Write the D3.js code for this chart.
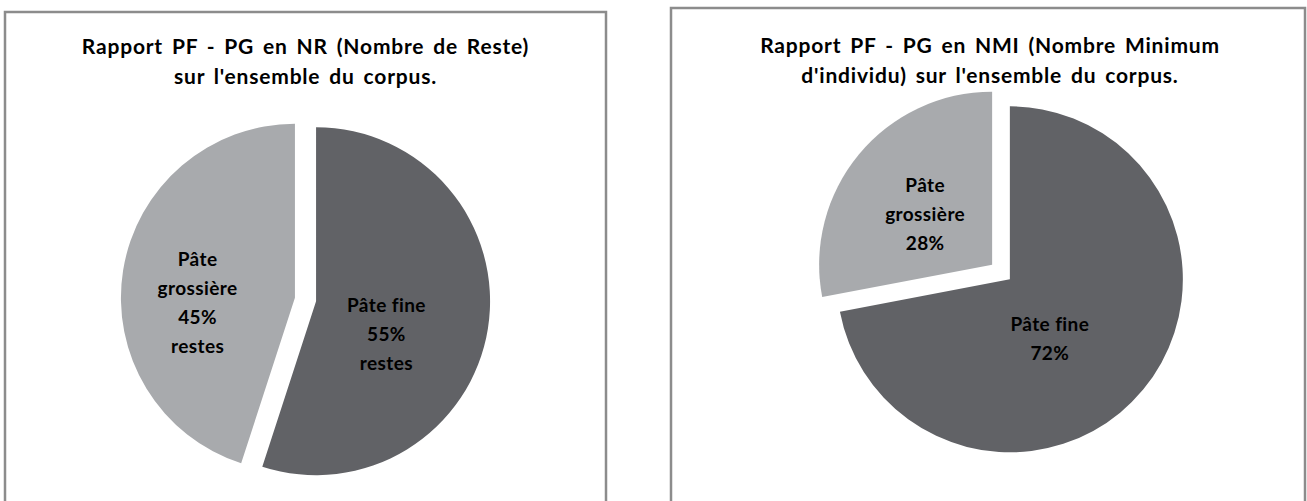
<!DOCTYPE html>
<html>
<head>
<meta charset="utf-8">
<script src="https://cdnjs.cloudflare.com/ajax/libs/d3/7.8.5/d3.min.js"></script>
<style>
    body { margin: 0; background: #fff; }
    svg { display: block; }
    text { font-family: Lato, "Open Sans", sans-serif; font-weight: bold; fill: #000; }
</style>
</head>
<body>
<svg id="chart" width="1307" height="501"></svg>
<script>

// data
var categories = ["Pâte fine", "Pâte grossière"];
var nrValues = [55, 45];
var nmiValues = [72, 28];

var nrTitle = ["Rapport PF - PG en NR (Nombre de Reste)", "sur l'ensemble du corpus."];
var nmiTitle = ["Rapport PF - PG en NMI (Nombre Minimum", "d'individu) sur l'ensemble du corpus."];

var nrLabels = [["Pâte fine", "55%", "restes"], ["Pâte", "grossière", "45%", "restes"]];
var nmiLabels = [["Pâte fine", "72%"], ["Pâte", "grossière", "28%"]];

var colours = ["#616266", "#a8aaad"];

var svg = d3.select("#chart");

function drawPanel(opts) {
    var g = svg.append("g");

    // frame (bottom runs off the page like in the original)
    g.append("rect")
        .attr("x", opts.box[0])
        .attr("y", opts.box[1])
        .attr("width", opts.box[2])
        .attr("height", opts.box[3])
        .attr("fill", "none")
        .attr("stroke", "#8c8c8c")
        .attr("stroke-width", 2.5);

    g.selectAll(".title")
        .data(opts.title)
        .enter().append("text")
        .attr("class", "title")
        .attr("x", opts.titleX)
        .attr("y", function(d, i) { return opts.titleY + i * 30; })
        .attr("text-anchor", "middle")
        .attr("dominant-baseline", "central")
        .attr("font-size", "21px")
        .style("letter-spacing", "0.8px")
        .style("word-spacing", "3px")
        .text(function(d) { return d; });

    var pie = d3.pie().sort(null).value(function(d) { return d; });
    var arcs = pie(opts.values);

    var arc = d3.arc().innerRadius(0).outerRadius(opts.r);
    var labelArc = d3.arc().innerRadius(opts.r * opts.labelPos).outerRadius(opts.r * opts.labelPos);

    var slices = g.selectAll(".slice")
        .data(arcs)
        .enter().append("g")
        .attr("class", "slice")
        .attr("transform", function(d) {
            var mid = (d.startAngle + d.endAngle) / 2;
            var dx = opts.cx + Math.sin(mid) * opts.explode;
            var dy = opts.cy - Math.cos(mid) * opts.explode;
            return "translate(" + dx + "," + dy + ")";
        });

    slices.append("path")
        .attr("d", arc)
        .attr("fill", function(d, i) { return colours[i]; });

    slices.each(function(d, i) {
        var c = labelArc.centroid(d);
        var lines = opts.labels[i];
        var lh = 29;
        var sh = opts.shift[i];
        var top = c[1] - (lines.length - 1) * lh / 2 + sh[1];
        d3.select(this).selectAll("text")
            .data(lines)
            .enter().append("text")
            .attr("x", c[0] + sh[0])
            .attr("y", function(t, j) { return top + j * lh; })
            .attr("text-anchor", "middle")
            .attr("dominant-baseline", "central")
            .attr("font-size", "19px")
            .style("letter-spacing", "0.4px")
            .text(function(t) { return t; });
    });
}

drawPanel({
    box: [5, 12, 601, 540],
    title: nrTitle, titleX: 305.5, titleY: 45,
    values: nrValues, labels: nrLabels,
    cx: 305.5, cy: 299.5, r: 174, explode: 10.7,
    labelPos: 0.45, shift: [[-7, 20], [-20, 16]]
});

drawPanel({
    box: [671, 8, 634, 540],
    title: nmiTitle, titleX: 990, titleY: 44,
    values: nmiValues, labels: nmiLabels,
    cx: 1001, cy: 272, r: 173, explode: 11.5,
    labelPos: 0.45, shift: [[-20, 9], [-7, -2]]
});

</script>
</body>
</html>
